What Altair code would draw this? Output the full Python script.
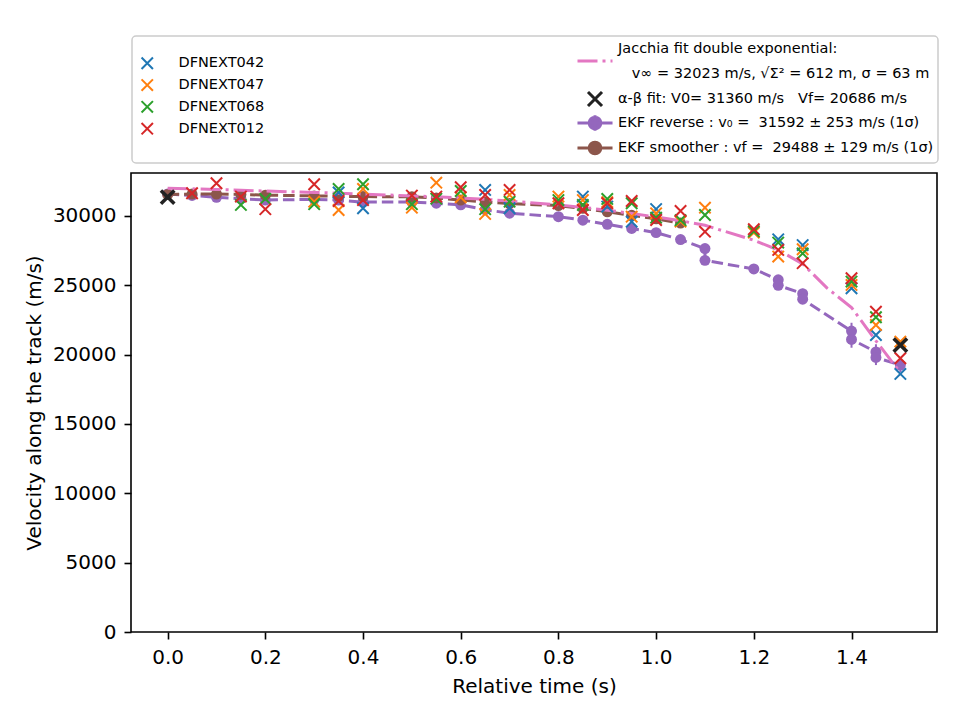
import altair as alt
import pandas as pd

# ---------------- data ----------------
cam_names = ["DFNEXT042", "DFNEXT047", "DFNEXT068", "DFNEXT012"]
cam_colors = ["#1f77b4", "#ff7f0e", "#2ca02c", "#d62728"]

t_042 = [0.35, 0.4, 0.65, 0.7, 0.85, 0.9, 0.95, 1.0, 1.25, 1.3, 1.4, 1.45, 1.5]
v_042 = [31700, 30560, 31880, 30560, 31400, 30680, 29590, 30500, 28320, 27900, 24790, 21420, 18610]

t_047 = [0.3, 0.35, 0.4, 0.5, 0.55, 0.6, 0.65, 0.7, 0.8, 0.85, 0.9, 0.95, 1.0, 1.05, 1.1, 1.2, 1.25, 1.3, 1.4, 1.45, 1.5]
v_047 = [31030, 30430, 31950, 30600, 32400, 31350, 30150, 31520, 31400, 31150, 31000, 29950, 30190, 29600, 30600, 28800, 27070, 27600, 25030, 22140, 20940]

t_068 = [0.15, 0.2, 0.3, 0.35, 0.4, 0.5, 0.55, 0.6, 0.65, 0.7, 0.8, 0.85, 0.9, 0.95, 1.0, 1.05, 1.1, 1.2, 1.25, 1.3, 1.4, 1.45]
v_068 = [30800, 31230, 30850, 31950, 32290, 30850, 31250, 31800, 30490, 31030, 31150, 30800, 31230, 30920, 29880, 29700, 30070, 28900, 28080, 27300, 25270, 22700]

t_012 = [0.05, 0.1, 0.15, 0.2, 0.3, 0.35, 0.4, 0.5, 0.55, 0.6, 0.65, 0.7, 0.8, 0.85, 0.9, 0.95, 1.0, 1.05, 1.1, 1.2, 1.25, 1.3, 1.4, 1.45, 1.5]
v_012 = [31640, 32360, 31400, 30490, 32290, 31080, 31150, 31470, 31400, 32070, 31520, 31880, 30920, 30430, 30920, 31080, 29710, 30360, 28870, 29050, 27550, 26600, 25510, 23100, 19740]

ab_t = [0.0, 1.5]
ab_v = [31360, 20686]

rev_t = [0, 0.05, 0.1, 0.15, 0.2, 0.3, 0.35, 0.4, 0.5, 0.55, 0.6, 0.65, 0.7, 0.8, 0.85, 0.9, 0.95, 1.0, 1.05,
         1.1, 1.1, 1.2, 1.25, 1.25, 1.3, 1.3, 1.4, 1.4, 1.45, 1.45, 1.5]
rev_v = [31590, 31480, 31350, 31250, 31150, 31200, 31150, 31000, 31000, 30920, 30800, 30450, 30200, 29950, 29700, 29400, 29100, 28800, 28300,
         27650, 26800, 26180, 25400, 25000, 24400, 24000, 21700, 21100, 20200, 19800, 19250]
rev_e = [253, 250, 250, 250, 250, 250, 250, 250, 250, 250, 250, 250, 250, 250, 250, 250, 250, 260, 270,
         280, 280, 300, 320, 320, 350, 350, 600, 600, 550, 550, 500]

sm_t = [0, 0.05, 0.1, 0.15, 0.2, 0.3, 0.35, 0.4, 0.5, 0.55, 0.6, 0.65, 0.7, 0.8, 0.85, 0.9, 0.95, 1.0, 1.05]
sm_v = [31550, 31580, 31580, 31550, 31500, 31450, 31420, 31400, 31380, 31300, 31150, 31000, 30900, 30750, 30550, 30300, 30050, 29800, 29488]
sm_e = [129] * 19

jac_t = [0, 0.05, 0.1, 0.15, 0.2, 0.3, 0.35, 0.4, 0.5, 0.55, 0.6, 0.65, 0.7, 0.8, 0.85, 0.9, 0.95, 1.0, 1.05, 1.1,
         1.2, 1.25, 1.3, 1.35, 1.4, 1.45, 1.5]
jac_v = [32000, 31960, 31910, 31860, 31800, 31700, 31640, 31580, 31450, 31380, 31300, 31200, 31080, 30800, 30620, 30420, 30180, 29930, 29650, 29330,
         28250, 27550, 26550, 24800, 23400, 21000, 18700]

x_ticks = [0.0, 0.2, 0.4, 0.6, 0.8, 1.0, 1.2, 1.4]
y_ticks = [0, 5000, 10000, 15000, 20000, 25000, 30000]

NB = "\u00a0"
jac_key = "Jacchia"
jac_line1 = "Jacchia fit double exponential:"
jac_line2 = "\u200b" + NB * 3 + "v\u221e = 32023 m/s, \u221a\u03a3\u00b2 = 612 m, \u03c3 = 63 m"
fit_labels = [
    "\u03b1-\u03b2 fit: V0= 31360 m/s" + NB * 3 + "Vf= 20686 m/s",
    "EKF reverse : v\u2080 = " + NB + "31592 \u00b1 253 m/s (1\u03c3)",
    "EKF smoother : vf = " + NB + "29488 \u00b1 129 m/s (1\u03c3)",
]

PURPLE = "#9467bd"
BROWN = "#8c564b"
PINK = "#e377c2"
BLACK = "#222222"

# ---------------- tables ----------------
rows = []
for name, ts, vs in zip(cam_names, [t_042, t_047, t_068, t_012], [v_042, v_047, v_068, v_012]):
    for t, v in zip(ts, vs):
        rows.append({"t": t, "v": v, "cam": name})
cams = pd.DataFrame(rows)

ab = pd.DataFrame({"t": ab_t, "v": ab_v})
rev = pd.DataFrame({"t": rev_t, "v": rev_v, "e": rev_e, "i": list(range(len(rev_t)))})
rev["lo"] = rev["v"] - rev["e"]
rev["hi"] = rev["v"] + rev["e"]
sm = pd.DataFrame({"t": sm_t, "v": sm_v, "e": sm_e, "i": list(range(len(sm_t)))})
sm["lo"] = sm["v"] - sm["e"]
sm["hi"] = sm["v"] + sm["e"]
jac = pd.DataFrame({"t": jac_t, "v": jac_v, "fit": jac_key, "i": list(range(len(jac_t)))})

# ---------------- encodings ----------------
X_PATH = "M-1,-1L1,1M-1,1L1,-1"
xs = alt.X("t:Q", scale=alt.Scale(domain=[-0.075, 1.575], nice=False, zero=False),
           axis=alt.Axis(values=x_ticks, format=".1f", title="Relative time (s)"))
ys = alt.Y("v:Q", scale=alt.Scale(domain=[0, 33100], nice=False),
           axis=alt.Axis(values=y_ticks, format="d", title="Velocity along the track (m/s)"))

LFONT = "DejaVu Sans"
LSIZE = 14.5

rev_err = alt.Chart(rev).mark_rule(color=PURPLE, strokeWidth=2).encode(x=xs, y="lo:Q", y2="hi:Q")
rev_line = alt.Chart(rev).mark_line(color=PURPLE, strokeWidth=3, strokeDash=[11.5, 5]).encode(x=xs, y=ys, order="i:Q")
rev_pts = alt.Chart(rev).mark_circle(color=PURPLE, size=120, opacity=1).encode(x=xs, y=ys)

sm_err = alt.Chart(sm).mark_rule(color=BROWN, strokeWidth=2).encode(x=xs, y="lo:Q", y2="hi:Q")
sm_line = alt.Chart(sm).mark_line(color=BROWN, strokeWidth=3, strokeDash=[11.5, 5]).encode(x=xs, y=ys, order="i:Q")
sm_pts = alt.Chart(sm).mark_circle(color=BROWN, size=120, opacity=1).encode(x=xs, y=ys)

jac_line = alt.Chart(jac).mark_line(color=PINK, strokeWidth=3).encode(
    x=xs, y=ys, order="i:Q",
    strokeDash=alt.StrokeDash(
        "fit:N",
        scale=alt.Scale(domain=[jac_key], range=[[20, 5, 3, 5]]),
        legend=alt.Legend(
            title=None, orient="none", legendX=445, legendY=-131, padding=0,
            symbolType="stroke", symbolSize=1225, symbolStrokeWidth=3, symbolStrokeColor=PINK,
            labelFont=LFONT, labelFontSize=LSIZE, labelColor="black", labelOffset=4, labelLimit=1000,
            labelBaseline="line-bottom",
            labelExpr="['" + jac_line1 + "', '" + jac_line2 + "']",
        ),
    ),
)

cam_pts = alt.Chart(cams).mark_point(shape=X_PATH, filled=False, size=130, strokeWidth=2, opacity=1).encode(
    x=xs, y=ys,
    color=alt.Color(
        "cam:N",
        scale=alt.Scale(domain=cam_names, range=cam_colors),
        legend=alt.Legend(
            title=None, orient="none", legendX=9, legendY=-117, padding=0,
            symbolType=X_PATH, symbolSize=130, symbolStrokeWidth=2,
            labelFont=LFONT, labelFontSize=LSIZE, labelColor="black", labelOffset=24, rowPadding=1.8,
            labelLimit=1000,
        ),
    ),
)

ab_pts = alt.Chart(ab).mark_point(shape=X_PATH, filled=False, size=180, strokeWidth=3.5, color=BLACK, opacity=1).encode(x=xs, y=ys)

# legend glyphs drawn in units of 6 px (symbolSize 144)
fit_paths = [
    "M-1.17,-1.17L1.17,1.17M-1.17,1.17L1.17,-1.17",
    "M-2.92,0L2.92,0M0,-1.3L0,1.3M0.97,0A0.97,0.97,0,1,1,-0.97,0A0.97,0.97,0,1,1,0.97,0Z",
    "M-2.92,0L2.92,0M0,-0.85L0,0.85M0.97,0A0.97,0.97,0,1,1,-0.97,0A0.97,0.97,0,1,1,0.97,0Z",
]
fit_cols = [BLACK, PURPLE, BROWN]
fit_rows_y = [-81.5, -57.5, -32.5]


def fit_driver(k):
    lab = fit_labels[k]
    leg = alt.Legend(
        title=None, orient="none", legendX=456.5, legendY=fit_rows_y[k], padding=0,
        symbolSize=144, symbolStrokeWidth=3, symbolOpacity=1,
        labelFont=LFONT, labelFontSize=LSIZE, labelColor="black", labelOffset=15.5,
        labelLimit=1000,
    )
    d = pd.DataFrame({"t": [ab_t[0]], "v": [ab_v[0]], "fit": [lab]})
    return alt.Chart(d).mark_point(filled=True).encode(
        x=xs, y=ys,
        fill=alt.Fill("fit:N", scale=alt.Scale(domain=[lab], range=[fit_cols[k]]), legend=leg),
        stroke=alt.Stroke("fit:N", scale=alt.Scale(domain=[lab], range=[fit_cols[k]]), legend=leg),
        shape=alt.Shape("fit:N", scale=alt.Scale(domain=[lab], range=[fit_paths[k]]), legend=leg),
    ).transform_filter("false")


box = alt.Chart(alt.Data(values=[{}])).mark_rect(
    fill="white", stroke="#cccccc", strokeWidth=1.5, cornerRadius=4
).encode(x=alt.value(1), x2=alt.value(807), y=alt.value(-137), y2=alt.value(-10))

chart = alt.layer(
    box, rev_err, rev_line, rev_pts, sm_err, sm_line, sm_pts, jac_line, cam_pts, ab_pts,
    fit_driver(0), fit_driver(1), fit_driver(2)
).resolve_scale(
    fill="independent", stroke="independent", shape="independent"
).properties(
    width=806, height=459,
    autosize=alt.AutoSizeParams(type="none"),
    padding={"left": 131, "top": 173, "right": 23, "bottom": 88},
).configure(
    font=LFONT,
    style={"guide-label": {"lineHeight": 25}},
).configure_view(
    stroke="black", strokeWidth=1.6
).configure_axis(
    labelFont=LFONT, titleFont=LFONT, labelFontSize=20, titleFontSize=20, titleFontWeight="normal",
    labelColor="black", titleColor="black", tickColor="black", tickWidth=1.6, tickSize=7,
    labelPadding=8, domain=False, grid=False,
).configure_axisX(titlePadding=9).configure_axisY(titlePadding=8)

chart.save("out.html", embed_options={"renderer": "svg", "actions": False})
